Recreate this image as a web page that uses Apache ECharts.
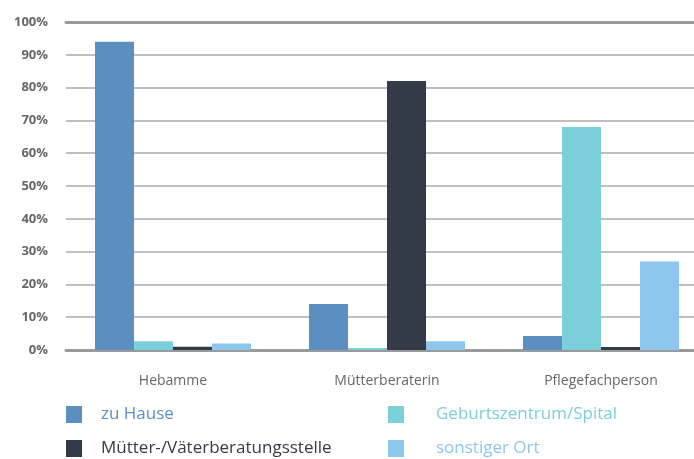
<!DOCTYPE html>
<html>
<head>
<meta charset="utf-8">
<script src="https://cdn.jsdelivr.net/npm/echarts@6/dist/echarts.min.js"></script>
<style>
  html, body { margin: 0; padding: 0; background: #fff; }
  #chart { width: 694px; height: 459px; }
</style>
</head>
<body>
<div id="chart"></div>
<script>
  const categories = ["Hebamme", "Mütterberaterin", "Pflegefachperson"];
  const zuHause = [94, 14, 4.3];
  const geburtszentrum = [2.7, 0.6, 68];
  const beratungsstelle = [1, 82, 0.9];
  const sonstigerOrt = [2, 2.7, 27];
  const yTicks = [0, 10, 20, 30, 40, 50, 60, 70, 80, 90, 100];

  const colors = ["#5b8fc2", "#7bcfd9", "#333a48", "#8dc6ec"];
  const chart = echarts.init(document.getElementById("chart"));

  const makeSeries = (name, data, color) => ({
    name: name,
    type: "bar",
    data: data,
    barWidth: 39,
    barGap: "0%",
    itemStyle: { color: color },
    xAxisIndex: 0
  });

  // one legend per entry so each sits where the reference has it
  const makeLegend = (name, color, left, top, pad) => ({
    left: left, top: top,
    itemWidth: 16, itemHeight: 17, icon: "rect",
    textStyle: { fontSize: 17, color: color, padding: [0, 0, 0, pad] },
    data: [name]
  });

  const option = {
    animation: false,
    textStyle: { fontFamily: "Open Sans" },
    grid: { left: 66, right: -14, top: 22, bottom: 109, outerBoundsMode: "none" },
    legend: [
      makeLegend("zu Hause", colors[0], 61, 401, 14),
      makeLegend("Mütter-/Väterberatungsstelle", colors[2], 61, 435, 14),
      makeLegend("Geburtszentrum/Spital", colors[1], 383, 401, 27),
      makeLegend("sonstiger Ort", colors[3], 383, 435, 27)
    ],
    xAxis: [
      {
        type: "category",
        data: categories,
        axisTick: { show: false },
        axisLine: { lineStyle: { color: "#9a9a9a", width: 3 } },
        axisLabel: { color: "#666", fontSize: 14, margin: 24 }
      },
      {
        type: "category",
        position: "top",
        data: categories,
        axisTick: { show: false },
        axisLabel: { show: false },
        axisLine: { lineStyle: { color: "#9a9a9a", width: 3 } }
      }
    ],
    yAxis: {
      type: "value",
      min: yTicks[0],
      max: yTicks[yTicks.length - 1],
      interval: 10,
      axisLine: { show: false },
      axisTick: { show: false },
      splitLine: { lineStyle: { color: "#aaaaaa", width: 1.5 } },
      axisLabel: {
        formatter: "{value}%",
        color: "#666",
        fontSize: 13,
        fontWeight: "bold",
        margin: 18
      }
    },
    series: [
      makeSeries("zu Hause", zuHause, colors[0]),
      makeSeries("Geburtszentrum/Spital", geburtszentrum, colors[1]),
      makeSeries("Mütter-/Väterberatungsstelle", beratungsstelle, colors[2]),
      makeSeries("sonstiger Ort", sonstigerOrt, colors[3])
    ]
  };
  chart.setOption(option);
</script>
</body>
</html>
